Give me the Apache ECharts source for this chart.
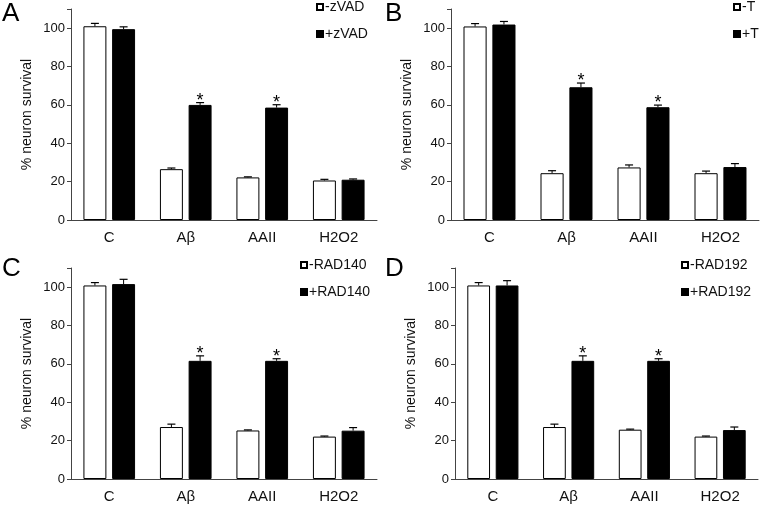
<!DOCTYPE html>
<html>
<head>
<meta charset="utf-8">
<script src="https://cdn.jsdelivr.net/npm/echarts@6/dist/echarts.min.js"></script>
<style>
  html, body { margin: 0; padding: 0; background: #fff; }
  #chart { width: 762px; height: 510px; }
</style>
</head>
<body>
<div id="chart"></div>
<script>
  // treatments on the x axis, same for all four panels
  var categories = ['C', 'Aβ', 'AAII', 'H2O2']
  var yTicks = [0, 20, 40, 60, 80, 100]

  // panel A
  var zvadMinus = [101, 26.5, 22.2, 20.6]
  var zvadMinusErr = [1.5, 0.6, 0.3, 0.6]
  var zvadPlus = [99.5, 60, 58.6, 21]
  var zvadPlusErr = [1.2, 1.2, 1.5, 0.4]
  // panel B
  var tMinus = [100.9, 24.4, 27.4, 24.4]
  var tMinusErr = [1.5, 1.3, 1.3, 1.1]
  var tPlus = [101.9, 69.2, 58.8, 27.6]
  var tPlusErr = [1.6, 2.2, 1.1, 1.8]
  // panel C
  var rad140Minus = [100.9, 27.1, 25.3, 22.1]
  var rad140MinusErr = [1.5, 1.5, 0.3, 0.3]
  var rad140Plus = [101.6, 61.6, 61.6, 25.2]
  var rad140PlusErr = [2.5, 2.6, 1.1, 1.6]
  // panel D
  var rad192Minus = [100.9, 27.1, 25.7, 22.1]
  var rad192MinusErr = [1.5, 1.5, 0.3, 0.3]
  var rad192Plus = [100.9, 61.6, 61.6, 25.5]
  var rad192PlusErr = [2.5, 2.6, 1.1, 1.6]
  // which "+" bars carry an asterisk (same in every panel)
  var starred = [false, true, true, false]

  var FONT = '"Liberation Sans", Arial, sans-serif'
  var BAR_W = 0.3
  var GAP = 0.25

  var panels = [
    { letter: 'A', names: ['-zVAD', '+zVAD'], minus: zvadMinus, minusErr: zvadMinusErr, plus: zvadPlus, plusErr: zvadPlusErr,
      grid: { left: 71, right: 385, top: 9, bottom: 290 }, legend: { left: 316, top: 0 }, letterPos: [2, 1] },
    { letter: 'B', names: ['-T', '+T'], minus: tMinus, minusErr: tMinusErr, plus: tPlus, plusErr: tPlusErr,
      grid: { left: 451, right: 3, top: 9, bottom: 290 }, legend: { left: 733, top: 0 }, letterPos: [385, 1] },
    { letter: 'C', names: ['-RAD140', '+RAD140'], minus: rad140Minus, minusErr: rad140MinusErr, plus: rad140Plus, plusErr: rad140PlusErr,
      grid: { left: 71, right: 385, top: 268, bottom: 31 }, legend: { left: 300, top: 258 }, letterPos: [2, 256] },
    { letter: 'D', names: ['-RAD192', '+RAD192'], minus: rad192Minus, minusErr: rad192MinusErr, plus: rad192Plus, plusErr: rad192PlusErr,
      grid: { left: 455, right: 4, top: 268, bottom: 31 }, legend: { left: 681, top: 258 }, letterPos: [385, 256] }
  ]

  function renderErr(params, api) {
    var idx = api.value(0)
    var val = api.value(1)
    var err = api.value(2)
    var side = api.value(3)
    var base = api.coord([idx, val])
    var top = api.coord([idx, val + err])
    var bw = api.size([1, 0])[0] * BAR_W
    var x = base[0] + side * bw * (1 + GAP) / 2
    var children = [
      { type: 'line', shape: { x1: x, y1: base[1], x2: x, y2: top[1] }, style: { stroke: '#000', lineWidth: 1 } },
      { type: 'line', shape: { x1: x - 4, y1: top[1], x2: x + 4, y2: top[1] }, style: { stroke: '#000', lineWidth: 1.2 } }
    ]
    if (api.value(4)) {
      children.push({
        type: 'text',
        style: { text: '*', x: x, y: top[1] + 7, textAlign: 'center', textVerticalAlign: 'bottom',
          font: '18px ' + FONT, fill: '#000' }
      })
    }
    return { type: 'group', children: children }
  }

  var option = {
    animation: false,
    backgroundColor: '#fff',
    grid: [],
    xAxis: [],
    yAxis: [],
    legend: [],
    series: [],
    graphic: []
  }

  panels.forEach(function (p, i) {
    option.grid.push(p.grid)
    option.xAxis.push({
      type: 'category',
      gridIndex: i,
      data: categories,
      axisLine: { lineStyle: { color: '#444', width: 1 } },
      axisTick: { alignWithLabel: true, length: 3, lineStyle: { color: '#444' } },
      axisLabel: { color: '#111', fontSize: 15, fontFamily: FONT, margin: 10 }
    })
    option.yAxis.push({
      type: 'value',
      gridIndex: i,
      min: 0,
      max: 110,
      interval: 20,
      name: '% neuron survival',
      nameLocation: 'middle',
      nameGap: 37,
      nameTextStyle: { color: '#111', fontSize: 14, fontFamily: FONT },
      axisLine: { show: true, lineStyle: { color: '#444', width: 1 } },
      axisTick: { show: true, length: 4, lineStyle: { color: '#444' } },
      axisLabel: {
        color: '#111', fontSize: 13, fontFamily: FONT, margin: 6,
        formatter: function (v) { return yTicks.indexOf(v) >= 0 ? String(v) : '' }
      },
      splitLine: { show: false }
    })
    option.legend.push({
      data: [
        { name: p.names[0], icon: 'rect' },
        { name: p.names[1], icon: 'rect' }
      ],
      orient: 'vertical',
      left: p.legend.left,
      top: p.legend.top,
      padding: 0,
      itemWidth: 6,
      itemHeight: 6,
      itemGap: 13,
      selectedMode: false,
      textStyle: { color: '#111', fontSize: 14, fontFamily: FONT, padding: [0, 0, 0, -3] }
    })
    option.series.push({
      name: p.names[0],
      type: 'bar',
      xAxisIndex: i,
      yAxisIndex: i,
      barWidth: '30%',
      barGap: '25%',
      itemStyle: { color: '#fff', borderColor: '#000', borderWidth: 1 },
      data: p.minus
    })
    option.series.push({
      name: p.names[1],
      type: 'bar',
      xAxisIndex: i,
      yAxisIndex: i,
      barWidth: '30%',
      barGap: '25%',
      itemStyle: { color: '#000', borderColor: '#000', borderWidth: 1 },
      data: p.plus
    })
    var errData = []
    categories.forEach(function (c, k) {
      errData.push([k, p.minus[k], p.minusErr[k], -1, 0])
      errData.push([k, p.plus[k], p.plusErr[k], 1, starred[k] ? 1 : 0])
    })
    option.series.push({
      type: 'custom',
      xAxisIndex: i,
      yAxisIndex: i,
      z: 5,
      silent: true,
      renderItem: renderErr,
      encode: { x: 0, y: 1 },
      data: errData
    })
    option.graphic.push({
      type: 'text',
      left: p.letterPos[0],
      top: p.letterPos[1],
      style: { text: p.letter, font: '26px ' + FONT, fill: '#000' }
    })
  })

  var chart = echarts.init(document.getElementById('chart'))
  chart.setOption(option)
</script>
</body>
</html>
